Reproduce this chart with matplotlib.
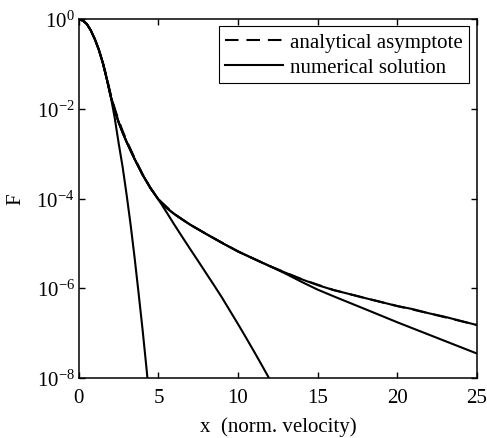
# -*- coding: utf-8 -*-
# Rozklad F w funkcji znormalizowanej predkosci - odtworzenie wykresu

import matplotlib
matplotlib.use("Agg")
import matplotlib.pyplot as plt

#%%
# 1. Dane

# wspolna czesc krzywych (x <= 2)
x_top = [0, 0.25, 0.5, 0.75, 1.0, 1.25, 1.5, 1.75, 2.0]
F_top = [1.0, 0.93, 0.78, 0.56, 0.36, 0.21, 0.107, 0.047, 0.019]

# krzywa najbardziej stroma
x_a = x_top + [2.25, 2.5, 2.75, 3.0, 3.25, 3.5, 3.75, 4.0, 4.25, 4.5]
F_a = F_top + [6.3e-3, 1.7e-3, 5.0e-4, 1.2e-4, 2.6e-5, 4.8e-6, 7.8e-7, 1.2e-7, 1.6e-8, 1.9e-9]

# krzywa gorna (numeryczna, do x = 25)
x_c = x_top + [2.25, 2.5, 2.75, 3.0, 3.5, 4.0, 4.5, 5.0,
               5.5, 6.0, 6.5, 7.0,
               8.0, 9.0, 10.0, 11.0, 12.0, 13.0, 14.0, 15.0, 16.0,
               17.0, 18.0, 19.0, 20.0, 21.0, 22.0, 23.0, 24.0, 25.0]
F_c = F_top + [9.3e-3, 5.0e-3, 2.95e-3, 1.82e-3, 7.6e-4, 3.4e-4, 1.7e-4, 9.5e-5,
               6.2e-5, 4.5e-5, 3.4e-5, 2.6e-5,
               1.62e-5, 1.02e-5, 6.6e-6, 4.5e-6, 3.1e-6, 2.2e-6, 1.58e-6, 1.17e-6, 9.1e-7,
               7.4e-7, 6.0e-7, 4.9e-7, 4.0e-7, 3.4e-7, 2.75e-7, 2.3e-7, 1.86e-7, 1.51e-7]

# krzywa srodkowa (odchodzi od gornej przy x ~ 5)
x_b = x_c[:17] + [5.5, 6.0, 6.5, 7.0, 7.5, 8.0, 8.5, 9.0, 9.5, 10.0, 10.5, 11.0, 11.5, 12.0]
F_b = F_c[:17] + [5.0e-5, 2.6e-5, 1.38e-5, 7.4e-6, 4.0e-6, 2.14e-6, 1.15e-6, 6.1e-7,
                  3.1e-7, 1.58e-7, 7.9e-8, 3.9e-8, 1.9e-8, 9.1e-9]

# krzywa prosta w ogonie (odchodzi od gornej przy x ~ 13)
x_d = x_c[:26] + [13.0, 14.0, 15.0, 16.0, 18.0, 20.0, 22.5, 25.0]
F_d = F_c[:26] + [2.1e-6, 1.38e-6, 9.3e-7, 6.6e-7, 3.4e-7, 1.74e-7, 7.8e-8, 3.5e-8]

# asymptota analityczna (przerywana)
x_as = [1.5, 1.75, 2.0, 2.25, 2.5, 2.75, 3.0, 3.5, 4.0, 4.5, 5.0, 6.0, 7.0, 8.0,
        10.0, 12.0, 14.0, 16.0, 18.0, 20.0, 22.0, 25.0]
F_as = [0.11, 0.05, 0.021, 0.0103, 5.5e-3, 3.2e-3, 1.95e-3, 8.0e-4, 3.5e-4, 1.72e-4,
        9.6e-5, 4.5e-5, 2.6e-5, 1.62e-5, 6.6e-6, 3.1e-6, 1.58e-6, 9.1e-7, 6.0e-7,
        4.0e-7, 2.75e-7, 1.51e-7]

x_ticks = [0, 5, 10, 15, 20, 25]
y_ticks = [1e-8, 1e-6, 1e-4, 1e-2, 1e0]

#%%
# 2. Wykres

plt.rcParams['font.family'] = ['Liberation Serif', 'DejaVu Serif']
plt.rcParams['mathtext.fontset'] = 'stix'
plt.rcParams['font.size'] = 15

fig = plt.figure(figsize=(4.87, 4.39), dpi=100)
ax = fig.add_axes([0.162, 0.137, 0.817, 0.817])

lw = 1.5
ax.plot(x_as, F_as, color='k', lw=lw, dashes=(6.5, 3.8), label='analytical asymptote')
ax.plot(x_c, F_c, color='k', lw=lw, label='numerical solution')
ax.plot(x_a, F_a, color='k', lw=lw)
ax.plot(x_b, F_b, color='k', lw=lw)
ax.plot(x_d, F_d, color='k', lw=lw)

ax.set_yscale('log')
ax.set_xlim(0, 25)
ax.set_ylim(1e-8, 1)
ax.set_xticks(x_ticks)
ax.set_yticks(y_ticks)
ax.minorticks_off()
ax.tick_params(direction='in', top=True, right=True, length=4, width=1)
ax.tick_params(axis='x', pad=7)
ax.tick_params(axis='y', pad=3)
for s in ax.spines.values():
    s.set_linewidth(1.1)

ax.set_xlabel('x  (norm. velocity)', labelpad=7)
ax.set_ylabel('F', labelpad=8)

leg = ax.legend(loc='upper right', handlelength=2.8, handletextpad=0.35,
                borderpad=0.3, labelspacing=0.25, borderaxespad=0.35,
                fancybox=False, framealpha=1, edgecolor='k')
leg.get_frame().set_linewidth(0.8)

fig.savefig('out.png', dpi=100)
